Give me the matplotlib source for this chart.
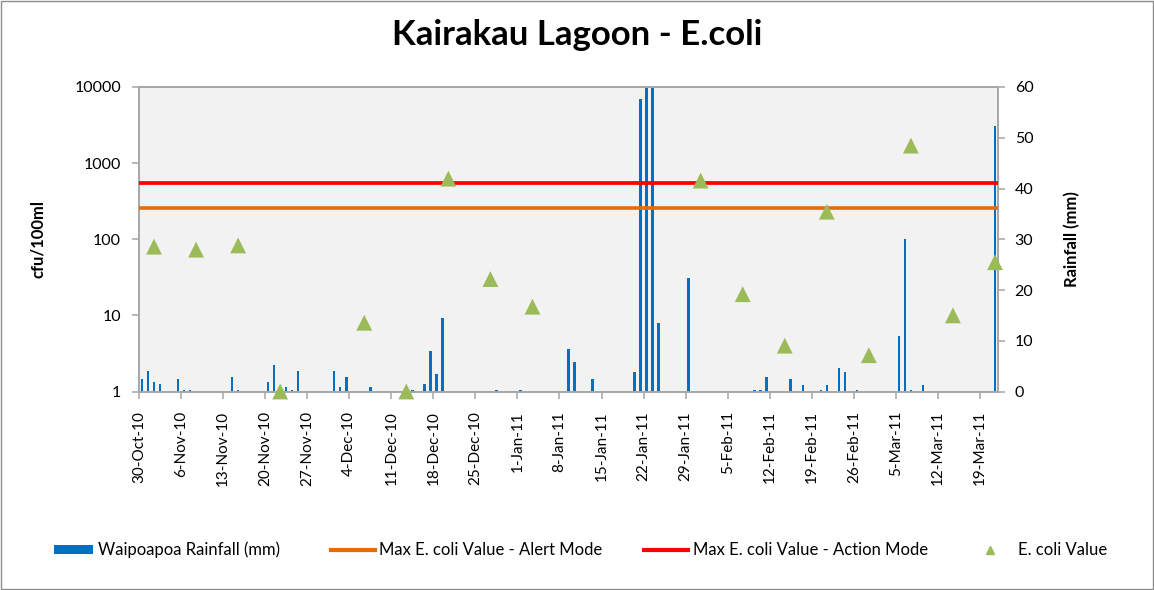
import matplotlib
matplotlib.use("Agg")
import matplotlib.pyplot as plt
import matplotlib.transforms as mtransforms
from matplotlib.lines import Line2D
from matplotlib.patches import Patch, Rectangle
import numpy as np
import pandas as pd

plt.rcParams['font.family'] = ['Lato', 'DejaVu Sans']

# ---------------- data ----------------
rain_dates = ["2010-10-30", "2010-10-31", "2010-11-01", "2010-11-02", "2010-11-05", "2010-11-06",
              "2010-11-07", "2010-11-14", "2010-11-15", "2010-11-20", "2010-11-21", "2010-11-23",
              "2010-11-24", "2010-11-25", "2010-12-01", "2010-12-02", "2010-12-03", "2010-12-07",
              "2010-12-14", "2010-12-16", "2010-12-17", "2010-12-18", "2010-12-19", "2010-12-28",
              "2011-01-01", "2011-01-09", "2011-01-10", "2011-01-13", "2011-01-20", "2011-01-21",
              "2011-01-22", "2011-01-23", "2011-01-24", "2011-01-29", "2011-02-09", "2011-02-10",
              "2011-02-11", "2011-02-15", "2011-02-17", "2011-02-20", "2011-02-21", "2011-02-23",
              "2011-02-24", "2011-02-26", "2011-03-05", "2011-03-06", "2011-03-07", "2011-03-09",
              "2011-03-21"]
rain_mm = [2.4, 4.0, 1.9, 1.4, 2.4, 0.3,
           0.3, 2.95, 0.3, 1.9, 5.3, 0.85,
           0.3, 4.0, 4.0, 0.85, 2.95, 0.85,
           0.3, 1.4, 7.9, 3.4, 14.4, 0.26,
           0.3, 8.4, 5.8, 2.4, 3.9, 57.7,
           68.0, 80.0, 13.4, 22.3, 0.3, 0.3,
           2.9, 2.4, 1.3, 0.3, 1.3, 4.7,
           3.9, 0.3, 10.9, 30.0, 0.3, 1.3,
           52.3]

ecoli_dates = ["2010-11-01", "2010-11-08", "2010-11-15", "2010-11-22", "2010-12-06", "2010-12-13",
               "2010-12-20", "2010-12-27", "2011-01-03", "2011-01-31", "2011-02-07", "2011-02-14",
               "2011-02-21", "2011-02-28", "2011-03-07", "2011-03-14", "2011-03-21"]
ecoli_values = [80, 73, 83, 1, 8, 1,
                625, 30, 13, 590, 19, 4,
                230, 3, 1700, 10, 50]

alert_value = 260
action_value = 550

tick_labels = ["30-Oct-10", "6-Nov-10", "13-Nov-10", "20-Nov-10", "27-Nov-10", "4-Dec-10",
               "11-Dec-10", "18-Dec-10", "25-Dec-10", "1-Jan-11", "8-Jan-11", "15-Jan-11",
               "22-Jan-11", "29-Jan-11", "5-Feb-11", "12-Feb-11", "19-Feb-11", "26-Feb-11",
               "5-Mar-11", "12-Mar-11", "19-Mar-11"]

x_start = "2010-10-30"
x_end = "2011-03-22"

# ---------------- figure ----------------
W, H = 1154, 590
fig = plt.figure(figsize=(W / 100, H / 100), dpi=100)
fig.patch.set_facecolor("white")
fig.add_artist(Rectangle((0.0008, 0.0015), 0.9984, 0.997, transform=fig.transFigure,
                         fill=False, edgecolor="#8c8c8c", linewidth=1.0))

left, right, top, bottom = 139, 998, 87, 391.5
rect = [left / W, 1 - bottom / H, (right - left) / W, (bottom - top) / H]

ax_r = fig.add_axes(rect)               # rainfall (bars) – drawn first
ax_l = fig.add_axes(rect, sharex=ax_r)  # E. coli (log) – on top
ax_l.patch.set_alpha(0)
ax_r.set_facecolor("#F2F2F2")

half_day = pd.Timedelta(hours=12)
rd = pd.to_datetime(rain_dates) + half_day
ed = pd.to_datetime(ecoli_dates) + half_day
x0 = pd.to_datetime(x_start)
x1 = pd.to_datetime(x_end)

ax_r.bar(rd, rain_mm, width=0.42, color="#0070C0", edgecolor="none",
         label="Waipoapoa Rainfall (mm)", zorder=2)
ax_r.set_ylim(0, 60)
ax_r.set_yticks(np.arange(0, 61, 10))
ax_r.yaxis.tick_right()
ax_r.yaxis.set_label_position("right")
ax_r.set_ylabel("Rainfall (mm)", fontsize=12, fontweight="bold", labelpad=22)

ax_l.plot([x0, x1], [alert_value, alert_value], color="#E46C0A", lw=2.6,
          solid_capstyle="butt", label="Max E. coli Value - Alert Mode", zorder=3)
ax_l.plot([x0, x1], [action_value, action_value], color="#FF0000", lw=2.7,
          solid_capstyle="butt", label="Max E. coli Value - Action Mode", zorder=3)
ax_l.scatter(ed, ecoli_values, marker="^", s=130, color="#9BBB59", edgecolors="none",
             label="E. coli Value", zorder=4, clip_on=False)
ax_l.set_yscale("log")
ax_l.set_ylim(1, 10000)
ax_l.set_yticks([1, 10, 100, 1000, 10000])
ax_l.set_yticklabels(["1", "10", "100", "1000", "10000"])
ax_l.yaxis.set_minor_locator(matplotlib.ticker.NullLocator())
ax_l.yaxis.tick_left()
ax_l.set_ylabel("cfu/100ml", fontsize=12, fontweight="bold", labelpad=20)

ax_r.set_xlim(x0, x1)
ticks = pd.to_datetime(tick_labels, format="%d-%b-%y")
ax_r.set_xticks(ticks)
ax_r.set_xticklabels(tick_labels, rotation=90, fontsize=11)
ax_l.tick_params(axis="x", which="both", bottom=False, labelbottom=False)

offset = mtransforms.ScaledTranslation(5 / 100, 0, fig.dpi_scale_trans)
for lab in ax_r.get_xticklabels():
    lab.set_transform(lab.get_transform() + offset)

spine_c = "#A6A6A6"
for a in (ax_r, ax_l):
    for s in a.spines.values():
        s.set_color(spine_c)
        s.set_linewidth(1.2)
ax_r.tick_params(axis="both", which="major", length=5, width=1.1, color=spine_c,
                 labelsize=11.5, pad=7)
ax_r.tick_params(axis="x", labelsize=11, pad=9)
ax_l.tick_params(axis="y", which="major", length=5, width=1.1, color=spine_c,
                 labelsize=11.5, pad=8)
ax_r.yaxis.set_minor_locator(matplotlib.ticker.NullLocator())
ax_r.xaxis.set_minor_locator(matplotlib.ticker.NullLocator())

fig.text(577 / W, 1 - 35 / H, "Kairakau Lagoon - E.coli", ha="center", va="center",
         fontsize=25, fontweight="bold")

# ---------------- legend (four separate entries) ----------------
leg_y = 1 - 550 / H
fs = 12
em = fs * 100 / 72  # px per em
entries = [
    (Patch(facecolor="#0070C0", edgecolor="none"), "Waipoapoa Rainfall (mm)", 54, 39, 5),
    (Line2D([], [], color="#E46C0A", lw=3), "Max E. coli Value - Alert Mode", 331, 44, 4),
    (Line2D([], [], color="#FF0000", lw=3), "Max E. coli Value - Action Mode", 644, 44, 5),
    (Line2D([], [], marker="^", color="#9BBB59", lw=0, markersize=6), "E. coli Value", 968, 44, 6),
]
for handle, text, xpx, hl_px, pad_px in entries:
    fig.legend([handle], [text], loc="center left", bbox_to_anchor=(xpx / W, leg_y),
               frameon=False, fontsize=fs, handlelength=hl_px / em, handleheight=0.4,
               handletextpad=pad_px / em, borderaxespad=0, borderpad=0)

fig.savefig("out.png", dpi=100, facecolor="white")
